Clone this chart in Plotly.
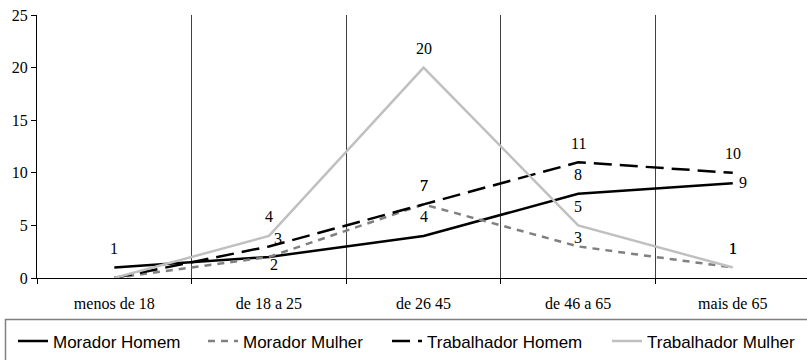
import plotly.graph_objects as go

categories = ["menos de 18", "de 18 a 25", "de 26 45", "de 46 a 65", "mais de 65"]

morador_homem = [1, 2, 4, 8, 9]
morador_mulher = [0, 2, 7, 3, 1]
trabalhador_homem = [0, 3, 7, 11, 10]
trabalhador_mulher = [0, 4, 20, 5, 1]

series_names = ["Morador Homem", "Morador Mulher", "Trabalhador Homem", "Trabalhador Mulher"]
series_values = [morador_homem, morador_mulher, trabalhador_homem, trabalhador_mulher]

SERIF = "Times New Roman, Liberation Serif, serif"
SANS = "Arial, Liberation Sans, sans-serif"

# styles
colors = ["#000000", "#808080", "#000000", "#c0c0c0"]
dashes = ["solid", "7px,6px", "18px,8px", "solid"]
legend_widths = [145, 139, 175, 150]
# label placement per point (None = no label)
label_pos = [
    ["up", "down", "up", "up", "right"],
    [None, None, "up", "up_near", "up"],
    [None, "upright", "up", "up", "up"],
    [None, "up", "up", "up", "up"],
]
shifts = {
    "up": (0, 19),
    "up_near": (0, 9),
    "down": (5, -8),
    "right": (10, 1),
    "upright": (9, 8),
}

fig = go.Figure()
for name, vals, col, dsh, lw in zip(series_names, series_values, colors, dashes, legend_widths):
    fig.add_trace(go.Scatter(
        x=categories, y=vals, name=name, mode="lines",
        line=dict(color=col, width=2.5, dash=dsh),
        legendwidth=lw, hoverinfo="skip",
    ))

annotations = []
for vals, poss in zip(series_values, label_pos):
    for cat, v, p in zip(categories, vals, poss):
        if p is None:
            continue
        dx, dy = shifts[p]
        annotations.append(dict(
            x=cat, y=v, xref="x", yref="y", text=str(v), showarrow=False,
            xshift=dx, yshift=dy, xanchor="center", yanchor="middle",
            font=dict(family=SERIF, size=16, color="#000000"),
        ))

L, R, T, B = 37, 807, 15, 278
PW, PH = R - L, B - T

def px_x(xpx):
    return (xpx - L) / PW

def px_y(ypx):
    return (B - ypx) / PH

fig.update_layout(
    width=807, height=360,
    margin=dict(l=L, r=807 - R, t=T, b=360 - B, pad=0, autoexpand=False),
    paper_bgcolor="white", plot_bgcolor="white",
    showlegend=True,
    legend=dict(
        orientation="h", x=px_x(13), xanchor="left", y=px_y(359.5), yanchor="bottom",
        font=dict(family=SANS, size=17, color="#000000"),
        bgcolor="rgba(0,0,0,0)", borderwidth=0, itemwidth=30,
    ),
    xaxis=dict(
        type="category", range=[-0.5, 4.48], tickson="boundaries",
        showgrid=True, gridcolor="#404040", gridwidth=1,
        showline=True, linecolor="#000000", linewidth=1,
        ticks="outside", ticklen=5, tickcolor="#000000",
        ticklabelstandoff=11,
        tickfont=dict(family=SERIF, size=16, color="#000000"),
        zeroline=False, fixedrange=True,
    ),
    yaxis=dict(
        range=[0, 25], dtick=5, tick0=0,
        showgrid=False, zeroline=False,
        showline=True, linecolor="#000000", linewidth=1,
        ticks="outside", ticklen=5, tickcolor="#000000",
        tickfont=dict(family=SERIF, size=16, color="#000000"),
        fixedrange=True,
    ),
    annotations=annotations,
    shapes=[dict(
        type="rect", xref="paper", yref="paper",
        x0=px_x(5.5), x1=px_x(830), y0=px_y(319.5), y1=px_y(380),
        line=dict(color="#808080", width=1.5), fillcolor="rgba(0,0,0,0)",
        layer="above",
    )],
)

fig.write_html("out.html")
